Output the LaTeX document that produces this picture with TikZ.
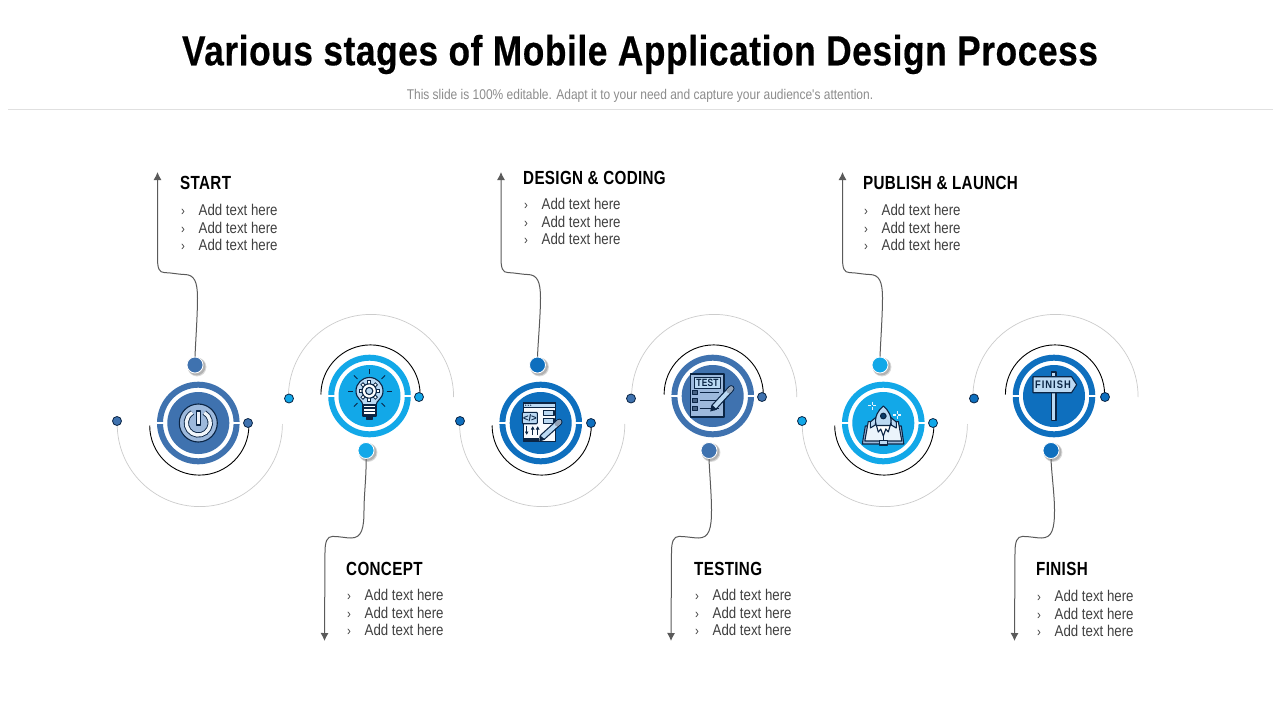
\documentclass[tikz,border=0pt]{standalone}
\usepackage{fontspec}
\usetikzlibrary{arrows.meta,calc}
\setmainfont{Liberation Sans}
\newfontfamily\narB[FakeStretch=0.80]{Liberation Sans Bold}
\newfontfamily\narT[FakeStretch=0.84,LetterSpace=1.4,FakeBold=0.4]{Liberation Sans Bold}
\newfontfamily\narH[FakeStretch=0.80,LetterSpace=1.8]{Liberation Sans Bold}
\newfontfamily\narF[FakeStretch=0.85,LetterSpace=9]{Liberation Sans Bold}
\newfontfamily\narR[FakeStretch=0.85]{Liberation Sans}
\definecolor{cSteel}{HTML}{3F72AF}
\definecolor{cBright}{HTML}{12A8E8}
\definecolor{cDeep}{HTML}{0E6FBE}
\definecolor{navy}{HTML}{0B2545}
\definecolor{pale}{HTML}{BBD9F3}
\definecolor{softb}{HTML}{9DB9DC}
\definecolor{conn}{HTML}{5A5A5A}
\tikzset{
  titletxt/.style={font=\narT\fontsize{42}{42}\selectfont,text=black,inner sep=0},
  subtxt/.style={font=\narR\fontsize{14.1}{15}\selectfont,text=gray!90,inner sep=0},
  headtxt/.style={font=\narH\fontsize{19}{20}\selectfont,text=black,inner sep=0,anchor=west},
  bodytxt/.style={font=\narR\fontsize{15.6}{16}\selectfont,text=black!75,inner sep=0,anchor=west,text height=11.2,text depth=0},
  bultxt/.style={font=\narR\fontsize{13.5}{16}\selectfont,text=black!75,inner sep=0,anchor=west,text height=11.2,text depth=0},
  diskshape/.style={circle,inner sep=0,minimum size=62,fill=#1},
  tinydot/.style={circle,inner sep=0,minimum size=9,fill=#1,draw=navy,line width=.8},
  bigdot/.style={circle,inner sep=0,minimum size=16,fill=#1,draw=white,line width=.8},
  greyarc/.style={draw=black!20,line width=.7},
  blackarc/.style={draw=black,line width=.9},
  connline/.style={draw=conn,line width=1,-{Latex[length=8,width=8]}},
  ico/.style={draw=navy,line width=1.1,line join=round},
}
% id, cx, cy, colour, arc start, arc end
\newcommand{\hubunit}[6]{
  \draw[line width=6,draw=#4] (#2,#3) circle (38.3);
  \fill[white] ({#2-43},{#3-1.2}) rectangle ({#2-33},{#3+1.2});
  \fill[white] ({#2+33},{#3-1.2}) rectangle ({#2+43},{#3+1.2});
  \node[diskshape=#4] (#1) at (#2,#3) {};
  \draw[blackarc] ({#2+1},{#3+2.5*(#5==180)-1.5*(#5==181)}) +(180:49.6) arc (180:#6:49.6);
  \draw[greyarc] ({#2+1.5},{#3+1}) +(180:82.6) arc (180:#6:82.6);
}
% name, x, y, colour
\newcommand{\sdot}[4]{\node[tinydot=#4] (#1) at (#2,#3) {};}
\newcommand{\bdot}[4]{
  \fill[black!15] ({#2+2},{#3+2}) circle (9.4);
  \fill[black!30] ({#2+1.6},{#3+1.6}) circle (8.8);
  \node[bigdot=#4] (#1) at (#2,#3) {};
}
% dot, line x, tip x, tip name
\newcommand{\upconn}[4]{
  \coordinate (#4) at (#3,172);
  \draw[connline] (#1.north) .. controls ++(0.6,-15) and (#2,315) .. (#2,298)
    .. controls (#2,282) and ({#2-3},274.5) .. ({#2-13},274.5)
    .. controls ({#2-18},274.5) and ({#3+13},272.6) .. ({#3+7},272.6)
    .. controls ({#3+1.5},272.6) and (#3,268) .. (#3,258) -- (#4);
}
\newcommand{\downconn}[4]{
  \coordinate (#4) at (#3,641);
  \draw[connline] (#1.south) .. controls ++(0.6,15) and (#2,495) .. (#2,510)
    .. controls (#2,528) and ({#2-2},538) .. ({#2-13},538)
    .. controls ({#2-18},538) and ({#3+15},536.4) .. ({#3+8},536.4)
    .. controls ({#3+2.5},536.4) and ({#3+.5},542) .. ({#3+.5},552) -- (#4);
}
% name, x, heading y, heading, y1, y2, y3
\newcommand{\textblock}[7]{
  \node[headtxt] (#1h) at (#2,#3) {#4};
  \node[bultxt] (#1ba) at ({#2+.8},#5) {›};
  \node[bultxt] (#1bb) at ({#2+.8},#6) {›};
  \node[bultxt] (#1bc) at ({#2+.8},#7) {›};
  \node[bodytxt] (#1a) at ({#2+18.5},#5) {Add text here};
  \node[bodytxt] (#1b) at ({#2+18.5},#6) {Add text here};
  \node[bodytxt] (#1c) at ({#2+18.5},#7) {Add text here};
}
\newcommand{\penciltool}[4]{
  \draw[navy,line width=6.6,line cap=round] (#1,#2) -- (#3,#4);
  \draw[pale,line width=4.2,line cap=round] (#1,#2) -- (#3,#4);
  \draw[softb!60!gray,line width=4.2,line cap=round] ($(#1,#2)!0.86!(#3,#4)$) -- (#3,#4);
}
\begin{document}
\begin{tikzpicture}[x=1pt,y=1pt,yscale=-1]
\useasboundingbox (0,0) rectangle (1280,720);
\fill[white] (0,0) rectangle (1280,720);
\node[titletxt] (title) at (640,54.5) {Various stages of Mobile Application Design Process};
\node[subtxt] (sub) at (640,95.5) {This slide is 100\% editable. Adapt it to your need and capture your audience's attention.};
\coordinate (ruleL) at (8,109.5);
\coordinate (ruleR) at (1273,109.5);
\draw[black!12,line width=.8] (ruleL) -- (ruleR);

\hubunit{h1}{198.3}{423}{cSteel}{180}{0}
\hubunit{h2}{369.5}{396}{cBright}{181}{360}
\hubunit{h3}{540.7}{423}{cDeep}{180}{0}
\hubunit{h4}{712.7}{396}{cSteel}{181}{360}
\hubunit{h5}{883.3}{423}{cBright}{180}{0}
\hubunit{h6}{1054}{396}{cDeep}{181}{360}

\sdot{a1}{117}{421}{cSteel}\sdot{b1}{248}{423}{cSteel}
\sdot{a2}{289}{398.5}{cBright}\sdot{b2}{419}{397}{cBright}
\sdot{a3}{460}{421}{cDeep}\sdot{b3}{591}{423}{cDeep}
\sdot{a4}{631}{398.5}{cSteel}\sdot{b4}{762}{397}{cSteel}
\sdot{a5}{802}{421}{cBright}\sdot{b5}{933}{423}{cBright}
\sdot{a6}{974}{398.5}{cDeep}\sdot{b6}{1105}{397}{cDeep}

\bdot{c1}{195}{365}{cSteel}
\bdot{c2}{366}{450.5}{cBright}
\bdot{c3}{537.5}{365}{cDeep}
\bdot{c4}{709}{450.5}{cSteel}
\bdot{c5}{880}{365}{cBright}
\bdot{c6}{1051}{450.5}{cDeep}

\upconn{c1}{197.5}{157.5}{t1}
\upconn{c3}{540.5}{501}{t3}
\upconn{c5}{882.5}{842.5}{t5}
\downconn{c2}{364}{324.5}{t2}
\downconn{c4}{711.5}{671}{t4}
\downconn{c6}{1054.5}{1014.5}{t6}

% power icon
\begin{scope}[shift={(198.3,423)}]
  \draw[ico,fill=softb] (0,0) circle (19);
  \draw[navy,line width=5.2] (-60:12) arc (-60:240:12);
  \draw[white!85!softb,line width=3.4] (-60:12) arc (-60:240:12);
  \draw[ico,fill=white!85!softb] (-2,-12) rectangle (2,2);
\end{scope}
% bulb icon
\begin{scope}[shift={(369.5,396)}]
  \foreach \ang in {-90,-135,-45,180,0,135,45}{\draw[navy,line width=1] ($(0,-5)+(\ang:17)$) -- ($(0,-5)+(\ang:22)$);}
  \draw[ico,fill=pale] (-6.5,9) .. controls (-7,4) and (-13.5,3) .. (-13.5,-5) arc (180:360:13.5) .. controls (13.5,3) and (7,4) .. (6.5,9) -- cycle;
  \draw[ico,fill=white] (-6.5,9) rectangle (6.5,20);
  \foreach \yy in {12,15.5,19}{\draw[navy,line width=1.9] (-6.5,\yy) -- (6.5,\yy);}
  \draw[ico,fill=navy] (-3,20.5) rectangle (3,23);
  \begin{scope}[shift={(-.3,-5)}]
    \foreach \ang in {0,45,...,315}{\draw[navy,line width=3.8] (\ang:6) -- (\ang:10.6);\draw[white,line width=1.8] (\ang:6) -- (\ang:9.7);}
    \draw[ico,fill=white] (0,0) circle (7.2);
    \draw[ico,fill=pale] (0,0) circle (3.6);
  \end{scope}
\end{scope}
% code window icon
\begin{scope}[shift={(540.7,423)}]
  \draw[ico,fill=white!88!pale] (-17.3,-20) rectangle (15,18.3);
  \draw[ico,fill=pale] (-17.3,-20) rectangle (15,-15.6);
  \foreach \xx in {-15,-12.5,-10}{\fill[navy] (\xx,-17.8) circle (.7);}
  \draw[ico,fill=pale,rounded corners=1] (-18.3,-10.7) rectangle (-3.3,.7);
  \node[inner sep=0,text=navy,font=\bfseries\fontsize{9.5}{10}\selectfont] (codetxt) at (-10.8,-5) {</>};
  \draw[ico,fill=pale] (2.7,-12.7) rectangle (13.3,-7.3);
  \draw[ico,fill=pale] (2.7,-4.7) rectangle (13.3,.7);
  \foreach \xx/\ya/\yb in {-14/3/12,-8/12/3,-3/12/3}{\draw[navy,line width=1.4,-{Latex[length=3.5,width=4]}] (\xx,\ya) -- (\xx,\yb);}
  \fill[navy] (-17,15.3) rectangle (-2,17.6);
  \penciltool{2}{14}{18.5}{-1}
  \fill[navy] (-1.5,18.5) -- (-.8,12.2) -- (4.4,16.6) -- cycle;
\end{scope}
% test sheet icon
\begin{scope}[shift={(712.7,396)}]
  \draw[ico,fill=softb] (-22,-22) rectangle (11.3,21);
  \draw[ico,fill=pale] (-18,-18.8) rectangle (7.5,-7.2);
  \node[inner sep=0,text=navy,font=\narH\fontsize{10.5}{11}\selectfont] (testtxt) at (-5.2,-13) {TEST};
  \foreach \yy in {-3.5,4.5,12.5}{
    \draw[ico,fill=navy!60!softb] (-20,\yy-2) rectangle (-15.5,\yy+2);
    \draw[navy,line width=1.6] (-13,\yy) -- (6,\yy);
  }
  \penciltool{1.5}{11}{18.5}{-7.5}
  \fill[navy] (-2.5,15.5) -- (-.9,8.6) -- (4.4,13.6) -- cycle;
\end{scope}
% rocket and book icon
\begin{scope}[shift={(883.3,423)}]
  \draw[ico,fill=softb] (-21,21) -- (-18,3) -- (18,3) -- (20.5,21) -- cycle;
  \draw[ico,fill=white!70!pale] (-18.5,18) -- (-15,-1.5) -- (-7,-.5) -- (0,6) -- (7,-.5) -- (15,-1.5) -- (18.5,18) -- (3,18) -- (0,19.5) -- (-3,18) -- cycle;
  \draw[navy,line width=.9] (0,5) -- (0,18);
  \draw[ico,fill=white] (-7,2) -- (-5,9) -- (-2.5,6) -- (0,13) -- (2.5,6) -- (5,9) -- (7,2) -- cycle;
  \draw[ico,fill=pale] (-8,2) -- (-13,5) -- (-13,-1) -- (-7,-6) -- cycle;
  \draw[ico,fill=pale] (8,2) -- (13,5) -- (13,-1) -- (7,-6) -- cycle;
  \draw[ico,fill=pale] (-7,2.5) .. controls (-9.5,-6) and (-5,-13) .. (0,-17) .. controls (5,-13) and (9.5,-6) .. (7,2.5) -- cycle;
  \draw[ico,fill=navy!70!cDeep] (0,-7) circle (2.8);
  \draw[ico,fill=pale] (-3.5,17.5) rectangle (4,22);
  \foreach \sx/\sy in {-11/-17.5,14/-8}{
    \draw[white!70!pale,line width=1.1] (\sx-4,\sy) -- (\sx-1,\sy) (\sx+1,\sy) -- (\sx+4,\sy) (\sx,\sy-4) -- (\sx,\sy-1) (\sx,\sy+1) -- (\sx,\sy+4);
  }
\end{scope}
% signpost icon
\begin{scope}[shift={(1054,396)}]
  \draw[ico,fill=pale] (-2.7,-24) rectangle (2,24.7);
  \draw[ico,fill=pale] (-21,-19.3) -- (17.5,-19.3) -- (22.7,-11.3) -- (17.5,-3.3) -- (-21,-3.3) -- cycle;
  \node[inner sep=0,text=navy,font=\narF\fontsize{11}{11}\selectfont] (fintxt) at (-1,-11.3) {FINISH};
\end{scope}

\textblock{s}{180}{183}{START}{210}{228}{245}
\textblock{d}{523}{178}{DESIGN \& CODING}{204}{222}{239}
\textblock{p}{863}{183}{PUBLISH \& LAUNCH}{210}{228}{245}
\textblock{k}{346}{569}{CONCEPT}{595}{613}{630}
\textblock{e}{694}{569}{TESTING}{595}{613}{630}
\textblock{f}{1036}{569}{FINISH}{596}{614}{631}
\end{tikzpicture}
\end{document}
